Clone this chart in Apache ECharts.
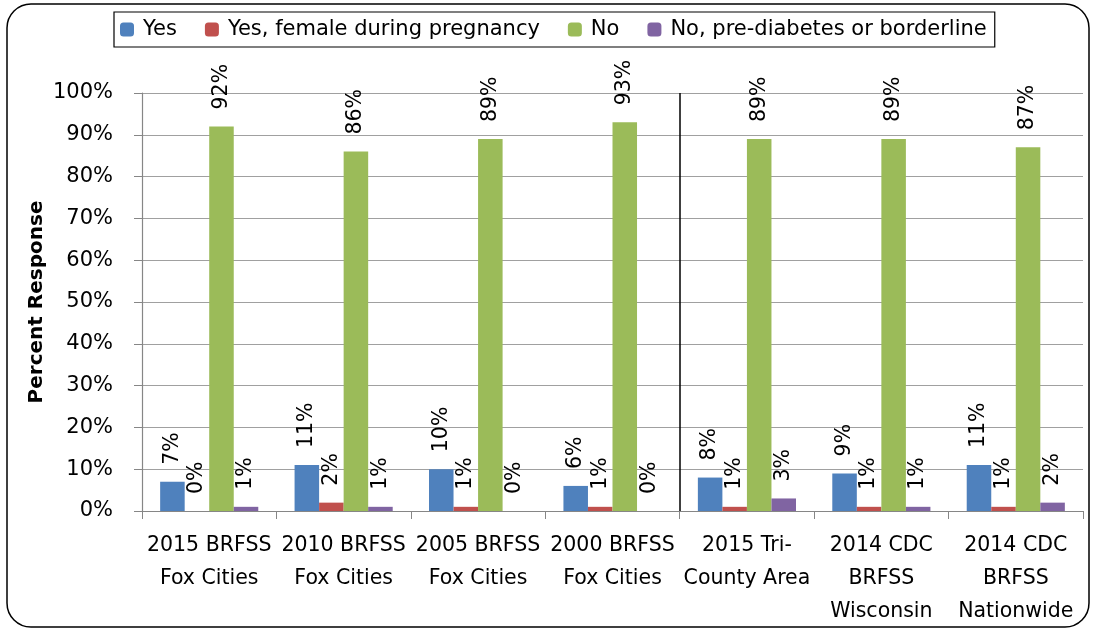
<!DOCTYPE html>
<html><head><meta charset="utf-8">
<script src="https://cdn.jsdelivr.net/npm/echarts@6/dist/echarts.min.js"></script>
<style>html,body{margin:0;padding:0;background:#fff}#c{width:1094px;height:630px}</style>
</head><body><div id="c"></div>
<script>
const categories = ["2015 BRFSS\nFox Cities","2010 BRFSS\nFox Cities","2005 BRFSS\nFox Cities","2000 BRFSS\nFox Cities","2015 Tri-\nCounty Area","2014 CDC\nBRFSS\nWisconsin","2014 CDC\nBRFSS\nNationwide"];
const seriesNames = ["Yes","Yes, female during pregnancy","No","No, pre-diabetes or borderline"];
const yes = [7,11,10,6,8,9,11];
const yesPreg = [0,2,1,1,1,1,1];
const no = [92,86,89,93,89,89,87];
const noPre = [1,1,0,0,3,1,2];
const colors = ["#4F81BD","#C0504D","#9BBB59","#8064A2"];
const yTicks = {min:0,max:100,interval:10};
const dividerAt = 4;

const FONT = "DejaVu Sans";
const chart = echarts.init(document.getElementById('c'));
const values = [yes, yesPreg, no, noPre];
const barSeries = values.map((v,i)=>({
  name: seriesNames[i], type:'bar', data:v, barGap:'0%', barCategoryGap:'27%',
  itemStyle:{color:colors[i]},
  label:{show:true, position:'top', rotate:90, align:'left', verticalAlign:'middle', distance:17,
    formatter:'{c}%', fontFamily:FONT, fontSize:20.5, color:'#000'}
}));
barSeries.push({
  type:'line', xAxisIndex:1, data:[[dividerAt,0]], showSymbol:false, symbol:'none', silent:true,
  markLine:{silent:true, symbol:'none', label:{show:false}, lineStyle:{color:'#000',width:1.5,type:'solid'},
    data:[{xAxis:dividerAt}]}
});
chart.setOption({
  animation:false,
  textStyle:{fontFamily:FONT},
  legend:{data:seriesNames, left:114, top:12, itemWidth:14, itemHeight:14, itemGap:28,
    borderColor:'#000', borderWidth:1.2, padding:[7,8,7,6],
    textStyle:{fontFamily:FONT, fontSize:21, color:'#000', padding:[0,0,0,4]}},
  grid:{left:142, right:11, top:93, bottom:119, containLabel:false},
  xAxis:[{type:'category', data:categories,
    axisLine:{lineStyle:{color:'#868686',width:1.2}},
    axisTick:{show:true, length:8, lineStyle:{color:'#868686'}},
    axisLabel:{interval:0, margin:18, fontFamily:FONT, fontSize:20.5, color:'#000', lineHeight:33}},
   {type:'value', min:0, max:categories.length, show:false}],
  yAxis:{type:'value', min:yTicks.min, max:yTicks.max, interval:yTicks.interval,
    name:'Percent Response', nameLocation:'middle', nameGap:95, nameRotate:90, nameMoveOverlap:false,
    nameTextStyle:{fontFamily:FONT, fontSize:20, fontWeight:'bold', color:'#000'},
    axisLine:{show:true, lineStyle:{color:'#868686',width:1.2}},
    axisTick:{show:true, length:8, lineStyle:{color:'#868686'}},
    splitLine:{lineStyle:{color:'#a0a0a0',width:1.2}},
    axisLabel:{formatter:'{value}%', margin:29, fontFamily:FONT, fontSize:21, color:'#000'}},
  series:barSeries,
  graphic:[{type:'rect', shape:{x:7,y:4,width:1082,height:623,r:24}, style:{fill:'none',stroke:'#000',lineWidth:1.5}, silent:true}]
});
</script></body></html>
